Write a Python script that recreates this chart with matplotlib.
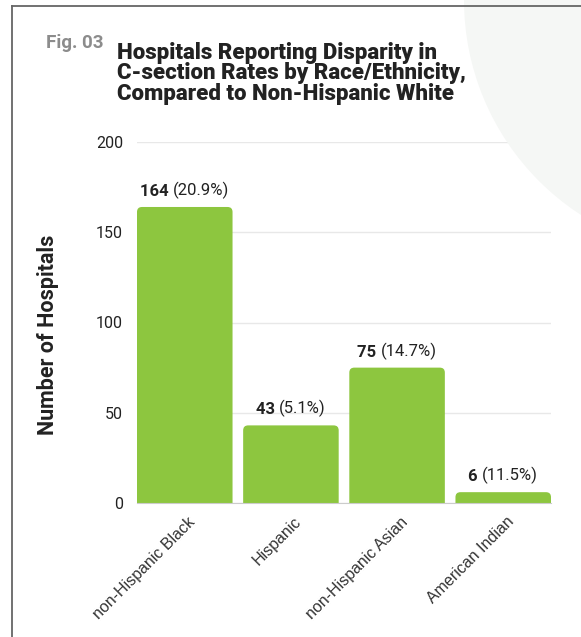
import matplotlib
matplotlib.use("Agg")
from matplotlib import pyplot as plt
from matplotlib.patches import FancyBboxPatch, Circle
from matplotlib.lines import Line2D
import matplotlib.transforms as mtransforms

groups = ["non-Hispanic Black", "Hispanic", "non-Hispanic Asian", "American Indian"]
hospitals = [164, 43, 75, 6]
percents = ["20.9%", "5.1%", "14.7%", "11.5%"]

green = "#8dc63f"
dark = "#222222"

plt.rcParams["font.family"] = ["Roboto", "DejaVu Sans"]

fig = plt.figure(figsize=(5.81, 6.37), dpi=100)

# background circle and frame lines, in figure pixels
bg = Circle((720, 637), 256, transform=None, facecolor="#f5f7f5",
            edgecolor="none", zorder=0)
fig.patches.append(bg)
fig.add_artist(Line2D([12 / 581, 1], [1 - 6 / 637, 1 - 6 / 637],
                      color="#666666", lw=1.3, transform=fig.transFigure))
fig.add_artist(Line2D([12 / 581, 12 / 581], [0, 1 - 6 / 637],
                      color="#666666", lw=1.3, transform=fig.transFigure))

ax = fig.add_axes([137 / 581, 1 - 503 / 637, 414 / 581, 361 / 637])
ax.set_facecolor("none")

x = list(range(len(groups)))
bars = ax.bar(x, hospitals, width=0.9, color=green)
ax.set_xlim(-0.45, 3.45)
ax.set_ylim(0, 200)

# swap the plain bars for ones with rounded tops
fig.canvas.draw()
px_per_x = ax.transData.transform((1, 0))[0] - ax.transData.transform((0, 0))[0]
px_per_y = ax.transData.transform((0, 1))[1] - ax.transData.transform((0, 0))[1]
for b in bars:
    b.set_visible(False)
    r = 5 / px_per_x
    pad = 10 / px_per_y
    fb = FancyBboxPatch((b.get_x() + r, -pad), b.get_width() - 2 * r,
                        b.get_height() + pad - r * px_per_x / px_per_y,
                        boxstyle="round,pad=%f,rounding_size=%f" % (r, r),
                        mutation_aspect=px_per_x / px_per_y,
                        facecolor=green, edgecolor="none", zorder=2,
                        clip_on=True)
    ax.add_patch(fb)
    fb.set_clip_path(ax.patch)

ax.set_yticks([0, 50, 100, 150, 200])
ax.yaxis.grid(True, color="#e8e8e8", lw=1)
ax.set_axisbelow(True)
ax.tick_params(axis="y", length=0, pad=10, labelsize=11.5, labelcolor=dark)
ax.tick_params(axis="x", length=0, pad=8)
for s in ["top", "right", "left"]:
    ax.spines[s].set_visible(False)
ax.spines["bottom"].set_color("#cccccc")

ax.set_xticks(x)
ax.set_xticklabels(groups, rotation=45, ha="right", rotation_mode="anchor",
                   fontsize=11.5, color="#333333", family="Liberation Sans")
shift = mtransforms.ScaledTranslation(3 / 100, 0, fig.dpi_scale_trans)
for lab in ax.get_xticklabels():
    lab.set_transform(lab.get_transform() + shift)

ax.set_ylabel("Number of Hospitals", fontsize=15.5, fontweight="bold",
              color=dark)
ax.yaxis.set_label_coords(-(137 - 59) / 414, 0.467)

# value labels: bold count + normal percent, centred over each bar
renderer = fig.canvas.get_renderer()
for xi, v, p in zip(x, hospitals, percents):
    t1 = ax.text(xi, v, str(v) + " ", fontsize=12, fontweight="bold",
                 color=dark, ha="left", va="bottom")
    t2 = ax.text(xi, v, "(" + p + ")", fontsize=12, color=dark,
                 ha="left", va="bottom")
    w1 = t1.get_window_extent(renderer).width
    w2 = t2.get_window_extent(renderer).width
    tot = w1 + w2
    t1.set_transform(mtransforms.offset_copy(ax.transData, fig=fig,
                                             x=-tot / 2, y=8, units="dots"))
    t2.set_transform(mtransforms.offset_copy(ax.transData, fig=fig,
                                             x=-tot / 2 + w1, y=8, units="dots"))

fig.text(46 / 581, 1 - 34 / 637, "Fig. 03", fontsize=13.5, fontweight="bold",
         color="#8c8c8c", va="top", ha="left")
fig.text(117 / 581, 1 - 42 / 637,
         "Hospitals Reporting Disparity in\nC-section Rates by Race/Ethnicity,\nCompared to Non-Hispanic White",
         fontsize=16, fontweight="heavy", color=dark, va="top", ha="left",
         linespacing=0.9)

fig.savefig("out.png", dpi=100)
